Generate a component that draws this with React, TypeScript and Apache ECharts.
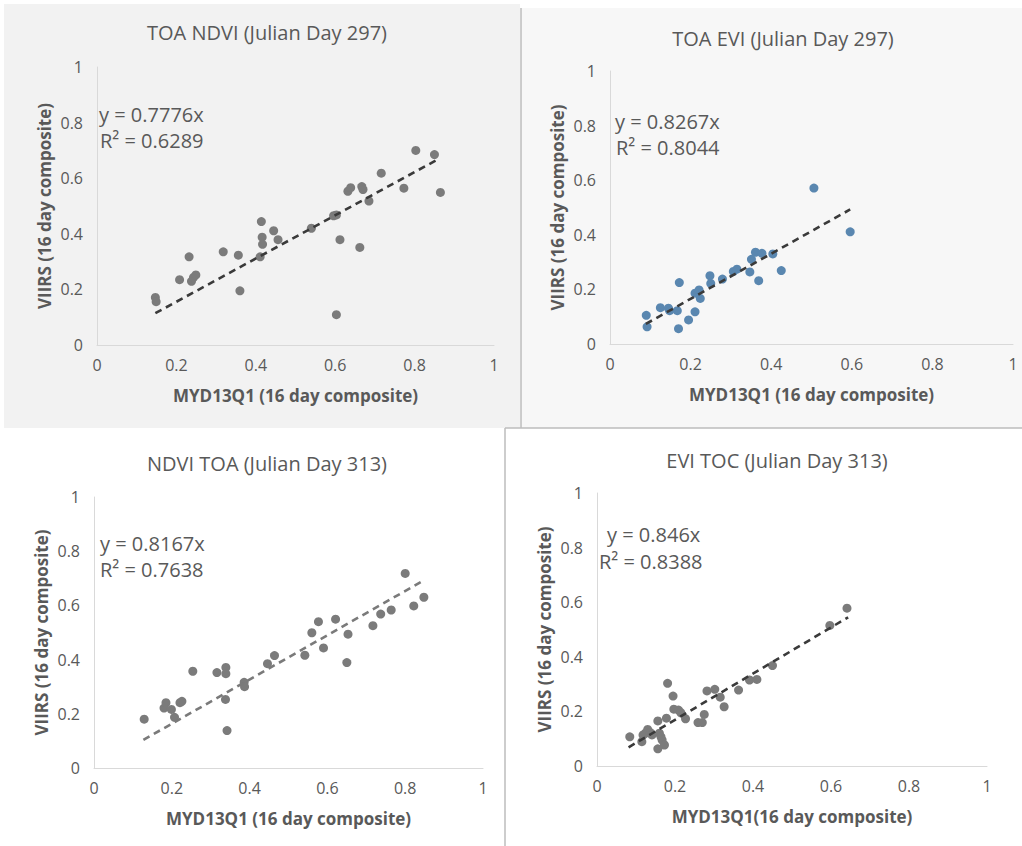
import React, { useEffect, useRef } from "react";
import * as echarts from "echarts";

// ---------- DATA ----------
const panelTitles = [
  "TOA NDVI (Julian Day 297)",
  "TOA EVI (Julian Day 297)",
  "NDVI TOA (Julian Day 313)",
  "EVI TOC (Julian Day 313)",
];
const xAxisTitles = [
  "MYD13Q1 (16 day composite)",
  "MYD13Q1 (16 day composite)",
  "MYD13Q1 (16 day composite)",
  "MYD13Q1(16 day composite)",
];
const yAxisTitle = "VIIRS (16 day composite)";
const slopes = [0.7776, 0.8267, 0.8167, 0.846];
const rSquared = ["0.6289", "0.8044", "0.7638", "0.8388"];
// x extent of each fitted trend line
const trendX = [
  [0.147, 0.861],
  [0.089, 0.596],
  [0.127, 0.849],
  [0.081, 0.644],
];

const ndviToa297: number[][] = [
  [0.147, 0.171], [0.149, 0.156], [0.208, 0.235], [0.232, 0.317], [0.238, 0.229],
  [0.243, 0.243], [0.249, 0.252], [0.318, 0.335], [0.356, 0.323], [0.36, 0.195],
  [0.414, 0.444], [0.416, 0.388], [0.417, 0.362], [0.411, 0.317], [0.445, 0.411],
  [0.456, 0.379], [0.54, 0.42], [0.596, 0.465], [0.603, 0.468], [0.612, 0.379],
  [0.603, 0.109], [0.632, 0.553], [0.639, 0.566], [0.662, 0.351], [0.667, 0.57],
  [0.67, 0.559], [0.685, 0.518], [0.716, 0.618], [0.773, 0.564], [0.803, 0.7],
  [0.85, 0.685], [0.865, 0.549],
];

const eviToa297: number[][] = [
  [0.09, 0.105], [0.092, 0.063], [0.125, 0.133], [0.145, 0.131], [0.148, 0.122],
  [0.167, 0.122], [0.17, 0.056], [0.172, 0.225], [0.195, 0.088], [0.211, 0.118],
  [0.211, 0.186], [0.221, 0.198], [0.224, 0.167], [0.248, 0.25], [0.25, 0.222],
  [0.279, 0.238], [0.306, 0.266], [0.315, 0.274], [0.347, 0.264], [0.351, 0.31],
  [0.361, 0.336], [0.369, 0.232], [0.377, 0.332], [0.404, 0.33], [0.425, 0.269],
  [0.506, 0.571], [0.596, 0.411],
];

const ndviToa313: number[][] = [
  [0.129, 0.18], [0.18, 0.221], [0.185, 0.241], [0.199, 0.216], [0.207, 0.187],
  [0.221, 0.241], [0.226, 0.246], [0.254, 0.357], [0.316, 0.352], [0.339, 0.371],
  [0.339, 0.348], [0.338, 0.253], [0.342, 0.138], [0.386, 0.316], [0.387, 0.3],
  [0.446, 0.385], [0.464, 0.415], [0.542, 0.416], [0.56, 0.499], [0.577, 0.54],
  [0.59, 0.443], [0.621, 0.549], [0.65, 0.389], [0.653, 0.494], [0.717, 0.525],
  [0.737, 0.568], [0.764, 0.583], [0.8, 0.718], [0.822, 0.598], [0.848, 0.63],
];

const eviToc313: number[][] = [
  [0.084, 0.107], [0.115, 0.089], [0.118, 0.114], [0.124, 0.12], [0.13, 0.134],
  [0.137, 0.122], [0.141, 0.114], [0.156, 0.165], [0.16, 0.12], [0.164, 0.107],
  [0.167, 0.095], [0.173, 0.077], [0.156, 0.063], [0.178, 0.175], [0.181, 0.303],
  [0.195, 0.256], [0.197, 0.208], [0.209, 0.205], [0.215, 0.195], [0.227, 0.173],
  [0.259, 0.159], [0.27, 0.159], [0.275, 0.189], [0.282, 0.275], [0.302, 0.281],
  [0.316, 0.252], [0.326, 0.217], [0.363, 0.278], [0.391, 0.315], [0.41, 0.317],
  [0.45, 0.368], [0.597, 0.515], [0.641, 0.578],
];

const panelData = [ndviToa297, eviToa297, ndviToa313, eviToc313];

// ---------- STYLE / LAYOUT ----------
const FONT = "'Open Sans', 'DejaVu Sans', sans-serif";
const TEXT = "#595959";
const pointColors = ["#7b7b7b", "#5a87b0", "#7b7b7b", "#7b7b7b"];
const trendColors = ["#3a3a3a", "#3a3a3a", "#7a7a7a", "#3a3a3a"];
const grids = [
  { left: 97, top: 67, width: 397, height: 278 },
  { left: 610, top: 71, width: 403, height: 273 },
  { left: 94, top: 497, width: 389, height: 271 },
  { left: 597, top: 493, width: 390, height: 273 },
];
const titlePos = [
  { x: 262, y: 17 },
  { x: 778, y: 23 },
  { x: 262, y: 448 },
  { x: 772, y: 445 },
];
const eqPos = [
  { x: 99, y: 104, x2: 100, dy: 26 },
  { x: 615, y: 111, x2: 616, dy: 26 },
  { x: 100, y: 533, x2: 100, dy: 26 },
  { x: 607, y: 524, x2: 599, dy: 27 },
];

export default function App() {
  const ref = useRef<HTMLDivElement>(null);

  useEffect(() => {
    if (!ref.current) return;
    const chart = echarts.init(ref.current, undefined, { renderer: "svg" });

    const xAxes = grids.map((_, i) => ({
      type: "value",
      gridIndex: i,
      min: 0,
      max: 1,
      interval: 0.2,
      name: xAxisTitles[i],
      nameLocation: "middle",
      nameGap: 42,
      nameTextStyle: { color: TEXT, fontSize: 17, fontWeight: "bold", fontFamily: FONT },
      axisLine: { show: true, lineStyle: { color: "#d9d9d9", width: 1 } },
      axisTick: { show: false },
      splitLine: { show: false },
      axisLabel: { color: TEXT, fontSize: 16, margin: 12, fontFamily: FONT },
    }));
    const yAxes = grids.map((_, i) => ({
      type: "value",
      gridIndex: i,
      min: 0,
      max: 1,
      interval: 0.2,
      name: yAxisTitle,
      nameLocation: "middle",
      nameRotate: 90,
      nameGap: 44,
      nameTextStyle: { color: TEXT, fontSize: 17, fontWeight: "bold", fontFamily: FONT },
      axisLine: { show: true, lineStyle: { color: "#d9d9d9", width: 1 } },
      axisTick: { show: false },
      splitLine: { show: false },
      axisLabel: { color: TEXT, fontSize: 16, margin: 14, fontFamily: FONT },
    }));

    const series: any[] = [];
    panelData.forEach((pts, i) => {
      series.push({
        type: "scatter",
        xAxisIndex: i,
        yAxisIndex: i,
        data: pts,
        symbolSize: 9,
        itemStyle: { color: pointColors[i], opacity: 1 },
        z: 3,
      });
      series.push({
        type: "line",
        xAxisIndex: i,
        yAxisIndex: i,
        data: trendX[i].map((x) => [x, slopes[i] * x]),
        showSymbol: false,
        symbol: "none",
        lineStyle: { color: trendColors[i], width: 2.6, type: [7, 5] },
        z: 4,
      });
    });

    const graphic: any[] = [
      { type: "rect", shape: { x: 4, y: 4, width: 516, height: 424 }, style: { fill: "#f2f2f2" }, z: -10 },
      { type: "rect", shape: { x: 521, y: 8, width: 501, height: 420 }, style: { fill: "#f7f7f7" }, z: -10 },
      { type: "line", shape: { x1: 521, y1: 8, x2: 521, y2: 428 }, style: { stroke: "#bdbdbd", lineWidth: 1.5 }, z: -9 },
      { type: "line", shape: { x1: 505, y1: 428, x2: 1022, y2: 428 }, style: { stroke: "#bdbdbd", lineWidth: 1.5 }, z: -9 },
      { type: "line", shape: { x1: 505, y1: 428, x2: 505, y2: 846 }, style: { stroke: "#bdbdbd", lineWidth: 1.5 }, z: -9 },
    ];
    eqPos.forEach((p, i) => {
      graphic.push({
        type: "text",
        x: p.x,
        y: p.y,
        style: { text: `y = ${slopes[i]}x`, fill: TEXT, fontSize: 20, fontFamily: FONT },
        z: 10,
      });
      graphic.push({
        type: "text",
        x: p.x2,
        y: p.y + p.dy,
        style: { text: `R² = ${rSquared[i]}`, fill: TEXT, fontSize: 20, fontFamily: FONT },
        z: 10,
      });
    });

    chart.setOption({
      animation: false,
      backgroundColor: "#ffffff",
      title: panelTitles.map((t, i) => ({
        text: t,
        left: titlePos[i].x,
        top: titlePos[i].y,
        textAlign: "center",
        textStyle: { color: TEXT, fontSize: 20, fontWeight: "normal", fontFamily: FONT },
      })),
      grid: grids.map((g) => ({ ...g, containLabel: false })),
      xAxis: xAxes,
      yAxis: yAxes,
      series,
      graphic,
    });

    return () => chart.dispose();
  }, []);

  return (
    <div
      ref={ref}
      style={{ position: "absolute", left: 0, top: 0, width: 1022, height: 846 }}
    />
  );
}
